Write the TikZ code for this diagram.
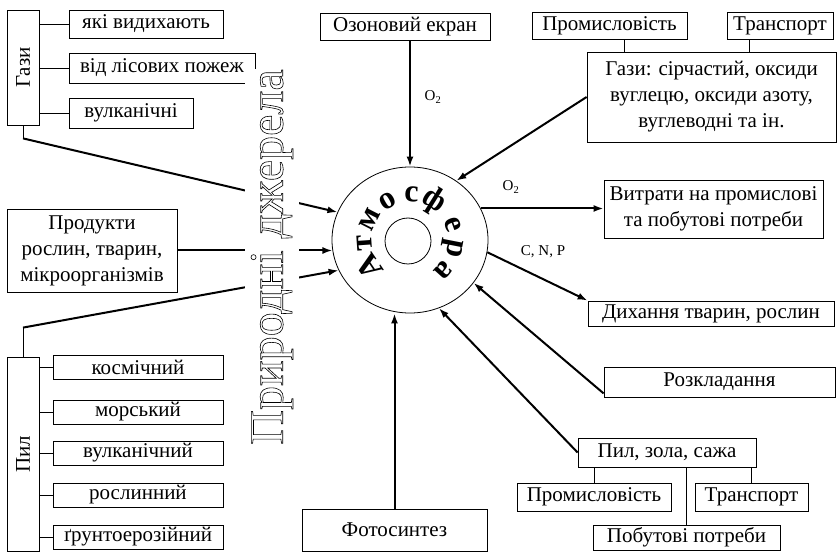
\documentclass[tikz,border=0pt]{standalone}
\usepackage{fontspec}
\setmainfont{Liberation Serif}
\usetikzlibrary{arrows.meta,shapes.geometric}

\tikzset{
  box/.style={draw, line width=0.8pt, inner sep=0pt, align=center, font=\fontsize{21}{26}\selectfont},
  flow/.style={line width=2pt, -{Latex[length=10pt,width=7pt]}},
  link/.style={line width=0.8pt},
  lbl/.style={inner sep=1pt, font=\fontsize{15}{15}\selectfont},
  ringletter/.style={inner sep=0pt, anchor=base, font=\fontsize{32}{32}\selectfont\bfseries},
}
\newcommand{\outlined}[1]{\special{pdf:literal direct 1 Tr 0.6 w}#1\special{pdf:literal direct 0 Tr}}

\begin{document}
\begin{tikzpicture}[x=1pt, y=1pt]
\useasboundingbox (0,0) rectangle (838,552);

% natural sources: gases
\node[box, minimum width=32pt, minimum height=115pt] (gazy) at (23,484.5) {\rotatebox{90}{Гази}};
\node[box, minimum width=154pt, minimum height=28pt] (vyd) at (146,528) {які видихають};
\node[box, minimum width=186pt, minimum height=30pt] (lis) at (162,484) {від лісових пожеж};
\node[box, minimum width=124pt, minimum height=30pt] (vulk) at (131,439) {вулканічні};
\foreach \n in {vyd,lis,vulk}
  \draw[link] (gazy.east |- \n.west) -- (\n.west);

\node[box, minimum width=170pt, minimum height=83pt] (prod) at (92,301.5) {Продукти\\рослин, тварин,\\мікроорганізмів};

% natural sources: dust
\node[box, minimum width=32pt, minimum height=194pt] (pyl) at (23,98) {\rotatebox{90}{Пил}};
\foreach \n/\t/\y in {kosm/космічний/185, mors/морський/140, vulk2/вулканічний/99, rosl/рослинний/57, grunt/ґрунтоерозійний/15} {
  \node[box, minimum width=170pt, minimum height=24pt] (\n) at (138,\y) {\t};
  \draw[link] (pyl.east |- \n.west) -- (\n.west);
}

% atmosphere
\node[draw, ellipse, line width=0.8pt, minimum width=156pt, minimum height=146pt, inner sep=0pt] (atm) at (410,312) {};
\node[draw, circle, line width=0.8pt, minimum size=46pt, inner sep=0pt] (core) at (408,311) {};
\foreach \ch/\a [count=\i] in {А/214, т/184, м/153, о/120, с/88, ф/58, е/20, р/-11, а/-42}
  \node[ringletter, rotate=\a-90] (let\i) at ([shift={(\a:38)}]atm.center) {\ch};

% top and right
\node[box, minimum width=170pt, minimum height=27pt] (ozon) at (405,525.5) {Озоновий екран};
\node[box, minimum width=155pt, minimum height=27pt] (prom1) at (609.5,526.5) {Промисловість};
\node[box, minimum width=106pt, minimum height=27pt] (trans1) at (780,526.5) {Транспорт};
\node[box, minimum width=249pt, minimum height=90pt] (gazy2) at (711.5,455) {Гази: сірчастий, оксиди\\вуглецю, оксиди азоту,\\вуглеводні та ін.};
\draw[link] ([xshift=14.5pt]prom1.south) -- ([xshift=14.5pt]prom1.south |- gazy2.north);
\draw[link] ([xshift=-31pt]trans1.south) -- ([xshift=-31pt]trans1.south |- gazy2.north);

\node[box, minimum width=219pt, minimum height=58pt] (vytr) at (713.5,343) {Витрати на промислові\\та побутові потреби};
\node[box, minimum width=246pt, minimum height=25pt] (dyh) at (711,238.5) {Дихання тварин, рослин};
\node[box, minimum width=231pt, minimum height=30pt] (rozk) at (719.5,170) {Розкладання};

\node[box, minimum width=178pt, minimum height=29pt] (pzs) at (667,99.5) {Пил, зола, сажа};
\node[box, minimum width=154pt, minimum height=28pt] (prom2) at (594,55) {Промисловість};
\node[box, minimum width=113pt, minimum height=28pt] (trans2) at (751.5,55) {Транспорт};
\node[box, minimum width=187pt, minimum height=25pt] (pobut) at (686.5,14.5) {Побутові потреби};
\foreach \n in {prom2,trans2,pobut}
  \draw[link] (\n.north) -- (\n.north |- pzs.south);

\node[box, minimum width=185pt, minimum height=42pt] (foto) at (394.5,22) {Фотосинтез};

% flows
\draw[link] (gazy.south) -- ++(0,-13) coordinate (gbend);
\draw[flow] (gbend) -- (atm.159);
\draw[flow] (prod.east) -- (prod.east -| atm.188);
\draw[link] (pyl.north) -- ++(0,29) coordinate (pbend);
\draw[flow] (pbend) -- (atm.203);
\draw[flow] (ozon.south -| atm.north) -- (atm.north);
\draw[flow] (gazy2.west) -- (atm.52);
\draw[flow] (atm.24) -- (atm.24 -| vytr.west);
\draw[flow] (atm.351) -- (dyh.north west);
\draw[flow] ([yshift=4pt]rozk.south west) -- (atm.-34);
\draw[flow] (pzs.west) -- (atm.-67);
\draw[flow] (foto.north) -- (foto.north |- atm.south);

\node[lbl] (o2top) at (433,455) {O\textsubscript{2}};
\node[lbl] (o2out) at (511,365) {O\textsubscript{2}};
\node[lbl] (cnp) at (543,300) {C, N, P};

% vertical title
\node[fill=white, rotate=90, inner xsep=0pt, inner ysep=6pt, font=\fontsize{48}{48}\selectfont] (dzher) at (272,295) {\outlined{Природні джерела}};
\end{tikzpicture}
\end{document}
